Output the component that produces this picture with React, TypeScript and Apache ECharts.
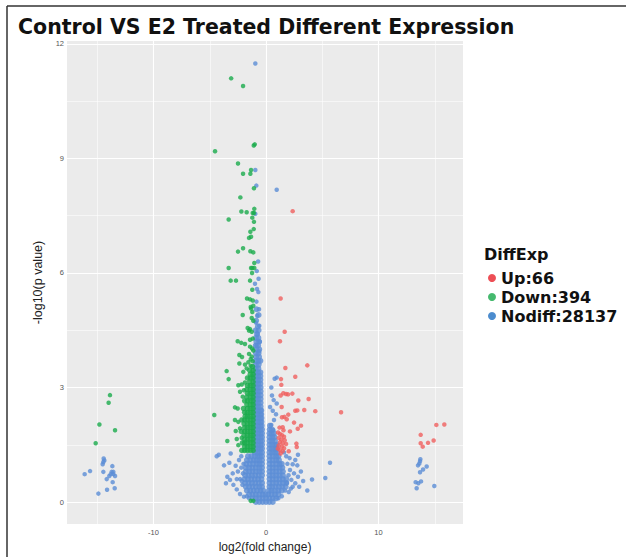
import React, { useEffect, useRef } from "react";
import * as echarts from "echarts";

const chartTitle = "Control VS E2 Treated Different Expression";
const legendTitle = "DiffExp";
const seriesNames = ["Up:66", "Down:394", "Nodiff:28137"];
const xAxisName = "log2(fold change)";
const yAxisName = "-log10(p value)";
const xTicks = [-10, 0, 10];
const yTicks = [0, 3, 6, 9, 12];
const xMinor = [-15, -5, 5, 15];
const yMinor = [1.5, 4.5, 7.5, 10.5];

// Up-regulated genes (red)
const upPoints: [number, number][] = [
  [2.37, 7.62], [1.30, 5.33], [1.66, 4.46], [1.24, 4.21], [3.67, 3.58], [1.72, 3.51], [2.60, 3.28],
  [1.33, 3.22], [1.36, 3.07], [1.54, 2.85], [1.78, 2.83], [1.96, 2.82], [2.34, 2.84], [1.30, 2.79],
  [2.87, 2.66], [3.79, 2.70], [1.39, 2.49], [2.60, 2.39], [2.78, 2.40], [3.40, 2.41], [4.38, 2.38],
  [6.67, 2.35], [1.98, 2.29], [1.63, 2.23], [1.42, 2.22], [1.84, 2.17], [2.49, 2.08], [3.11, 2.00],
  [2.82, 1.92], [2.13, 1.85], [1.48, 1.96], [1.20, 1.95], [1.55, 1.88], [1.07, 1.82], [1.24, 1.78],
  [1.42, 1.75], [1.60, 1.71], [1.13, 1.68], [1.36, 1.64], [1.66, 1.62], [1.24, 1.57], [1.48, 1.54],
  [1.78, 1.52], [1.13, 1.48], [1.42, 1.45], [1.60, 1.41], [1.05, 1.40], [1.24, 1.36], [1.48, 1.33],
  [2.02, 1.33], [2.70, 1.53], [2.73, 1.44], [1.30, 1.27],
  [15.14, 2.02], [15.85, 2.03], [13.75, 1.76], [14.90, 1.61], [14.40, 1.55], [13.75, 1.54], [13.93, 1.45],
];

// Down-regulated genes (green), scattered ones
const downPoints: [number, number][] = [
  [-3.10, 11.10], [-2.04, 10.90], [-1.09, 9.34], [-1.00, 9.37], [-4.53, 9.19], [-2.49, 8.87], [-1.33, 8.70],
  [-2.04, 8.60], [-1.39, 8.60], [-1.07, 8.22], [-2.28, 7.98], [-1.04, 7.68], [-2.19, 7.61], [-1.72, 7.59],
  [-1.18, 7.57], [-1.07, 7.57], [-3.32, 7.40], [-1.22, 7.45], [-1.07, 7.34], [-1.09, 7.15], [-1.39, 7.08],
  [-1.33, 6.95], [-1.51, 6.92], [-2.04, 6.65], [-2.49, 6.56], [-1.39, 6.57], [-1.13, 6.54], [-1.04, 6.26],
  [-1.33, 6.13], [-1.22, 6.13], [-1.04, 6.13], [-3.32, 6.13], [-1.24, 6.00], [-3.14, 5.80], [-2.67, 5.80],
  [-1.42, 5.80], [-1.22, 5.56], [-1.69, 5.33], [-1.42, 5.31], [-1.18, 5.28], [-1.36, 5.11], [-1.13, 5.14],
  [-1.33, 5.07], [-2.07, 4.90], [-1.22, 4.98], [-1.27, 4.82], [-1.13, 4.75], [-1.63, 4.56], [-1.42, 4.53],
  [-1.27, 4.46], [-1.51, 4.49], [-1.18, 4.28], [-1.42, 4.25], [-2.52, 4.21], [-2.20, 4.17], [-1.87, 4.14],
  [-1.42, 4.07], [-1.24, 4.02], [-1.13, 3.97], [-2.37, 3.85], [-2.13, 3.80], [-1.51, 3.88], [-1.27, 3.81],
  [-1.36, 3.74], [-2.37, 3.63], [-1.87, 3.60], [-1.57, 3.66], [-1.36, 3.57], [-1.18, 3.69], [-3.50, 3.43],
  [-2.02, 3.41], [-1.72, 3.50], [-3.32, 3.22], [-2.46, 3.06], [-2.16, 3.08], [-1.87, 3.13], [-2.31, 2.89],
  [-1.96, 2.93], [-2.07, 2.76], [-4.60, 2.28], [-2.76, 2.48], [-2.52, 2.45], [-3.44, 2.03], [-2.76, 2.15],
  [-2.46, 2.10], [-2.69, 1.86], [-3.44, 1.60], [-2.60, 1.65], [-2.46, 1.49], [-2.31, 1.93], [-2.16, 1.68],
  [-13.87, 2.80], [-13.99, 2.60], [-14.81, 2.03], [-13.42, 1.88], [-15.14, 1.54],
  [-1.36, 0.03], [-1.13, 0.03],
];

// Down-regulated genes (green), dense column, one row per p level
const downRowY = [1.35, 1.45, 1.55, 1.65, 1.75, 1.85, 1.95, 2.05, 2.15, 2.25, 2.35, 2.45, 2.55, 2.65, 2.75, 2.85, 2.95, 3.05, 3.15, 3.25, 3.35, 3.45, 3.55];
const downRowX = [
  [-1.15, -1.4, -1.65, -1.9, -2.15], [-1.15, -1.4, -1.65, -1.9], [-1.15, -1.4, -1.65, -1.9, -2.1],
  [-1.15, -1.4, -1.65, -1.9], [-1.15, -1.4, -1.65, -1.95], [-1.15, -1.4, -1.65, -1.9, -2.2],
  [-1.15, -1.4, -1.65, -1.9], [-1.15, -1.4, -1.65, -1.95], [-1.15, -1.4, -1.65, -1.9, -2.15],
  [-1.15, -1.4, -1.65, -1.85], [-1.15, -1.4, -1.65, -1.9], [-1.15, -1.4, -1.65, -2.0],
  [-1.15, -1.4, -1.7], [-1.15, -1.4, -1.65, -1.9], [-1.15, -1.4, -1.7], [-1.15, -1.4, -1.65],
  [-1.15, -1.4, -1.7], [-1.15, -1.4, -1.65], [-1.15, -1.45], [-1.15, -1.4, -1.65], [-1.15, -1.4],
  [-1.15, -1.45], [-1.2],
];

// Not differential genes (blue), scattered ones
const nodiffPoints: [number, number][] = [
  [-16.12, 0.73], [-15.64, 0.81], [-14.90, 0.22], [-14.52, 0.99], [-14.46, 1.05], [-14.37, 1.09], [-14.43, 1.14],
  [-14.46, 0.79], [-14.16, 0.60], [-14.13, 0.32], [-13.93, 0.68], [-13.80, 0.73], [-13.72, 0.79], [-13.66, 0.94],
  [-13.63, 0.52], [-13.57, 0.79], [-13.57, 0.73], [-13.45, 0.36], [-13.42, 0.68],
  [13.72, 1.12], [13.69, 1.07], [13.63, 1.01], [13.51, 0.96], [14.28, 0.93], [13.96, 0.85], [13.69, 0.78],
  [13.30, 0.52], [13.54, 0.49], [13.78, 0.54], [13.39, 0.36], [14.96, 0.42],
  [-4.38, 1.20], [-4.20, 1.24], [-3.73, 0.96], [-3.56, 0.49], [-3.14, 1.27], [-3.26, 1.03], [-2.96, 0.75],
  [-3.44, 0.66], [-3.20, 0.58], [-2.60, 0.33], [-2.31, 0.21], [-1.96, 0.14], [-2.40, 1.10], [-2.20, 0.90],
  [-2.50, 0.80], [-2.30, 0.60], [-2.10, 0.45], [-2.70, 0.95], [-2.20, 1.20], [-2.00, 1.00], [-2.05, 0.75],
  [-2.15, 0.55], [-2.60, 0.60], [-2.90, 0.45], [-1.70, 0.15], [-1.50, 0.10],
  [2.84, 1.24], [2.60, 1.10], [2.37, 0.99], [2.78, 0.96], [2.13, 0.84], [2.49, 0.75], [2.84, 0.66],
  [2.25, 0.58], [2.60, 0.49], [2.37, 0.40], [3.67, 0.30], [4.09, 0.59], [5.27, 0.63], [5.69, 1.03],
  [2.02, 0.26], [1.90, 1.00], [2.00, 0.70], [1.85, 0.50], [1.70, 0.30], [1.40, 0.15], [1.10, 0.10],
  [2.10, 1.15], [1.80, 1.20], [1.60, 1.30], [2.20, 0.35], [3.10, 0.80], [3.30, 0.55], [2.95, 0.40],
  [0.77, 3.23], [0.95, 3.26], [0.47, 3.00], [0.53, 2.79], [0.68, 2.67], [0.36, 2.49], [0.95, 2.58],
  [0.60, 2.39], [0.89, 2.30], [0.71, 2.15], [0.47, 2.02], [0.65, 1.88],
  [-0.95, 11.49], [-0.95, 8.70], [-0.86, 8.29], [0.95, 8.18], [-0.95, 7.55], [-0.98, 5.72], [-0.80, 5.58],
  [-0.68, 5.50], [-0.85, 5.25], [-0.62, 5.05], [-0.78, 4.88], [-0.90, 4.70], [-0.60, 4.62], [-0.75, 4.40],
  [-0.55, 4.20], [-0.85, 4.10], [-0.60, 3.95], [-0.70, 6.30], [-0.82, 6.05], [-0.66, 5.85],
];

// Not differential genes (blue), dense core, one row per p level
const nodiffRowY = [
  0.0, 0.1, 0.2, 0.3, 0.4, 0.5, 0.6, 0.7, 0.8, 0.9, 1.0, 1.1, 1.2, 1.3, 1.4, 1.5, 1.6, 1.7, 1.8, 1.9,
  2.0, 2.1, 2.2, 2.3, 2.4, 2.5, 2.6, 2.7, 2.8, 2.9, 3.0, 3.1, 3.2, 3.3, 3.4, 3.5, 3.6, 3.7, 3.8,
  3.9, 4.0, 4.1, 4.2, 4.3, 4.4, 4.5, 4.6, 4.75, 4.9, 5.05,
];
const nodiffRowX = [
  [-0.9, -0.6, -0.3, 0, 0.3, 0.6],
  [-1.2, -0.9, -0.6, -0.3, 0, 0.3, 0.6, 0.9],
  [-1.5, -1.2, -0.9, -0.6, -0.3, -0.05, 0.2, 0.5, 0.8, 1.1],
  [-1.7, -1.4, -1.1, -0.8, -0.5, -0.25, 0.25, 0.5, 0.8, 1.1, 1.4],
  [-1.8, -1.5, -1.2, -0.9, -0.6, -0.35, 0.3, 0.55, 0.85, 1.15, 1.45, 1.75],
  [-1.85, -1.55, -1.25, -0.95, -0.65, -0.35, 0.3, 0.6, 0.9, 1.2, 1.5, 1.8],
  [-1.9, -1.6, -1.3, -1.0, -0.7, -0.4, 0.3, 0.6, 0.9, 1.2, 1.5, 1.8],
  [-1.85, -1.55, -1.25, -0.95, -0.65, -0.35, 0.3, 0.6, 0.9, 1.2, 1.5],
  [-1.8, -1.5, -1.2, -0.9, -0.6, -0.35, 0.3, 0.6, 0.9, 1.2, 1.5],
  [-1.8, -1.5, -1.2, -0.9, -0.6, -0.35, 0.3, 0.6, 0.9, 1.2, 1.45],
  [-1.75, -1.45, -1.15, -0.85, -0.6, -0.35, 0.3, 0.6, 0.9, 1.2, 1.4],
  [-1.7, -1.4, -1.1, -0.85, -0.6, -0.35, 0.3, 0.6, 0.9, 1.15],
  [-1.6, -1.3, -1.0, -0.75, -0.55, -0.35, 0.3, 0.6, 0.9, 1.1],
  [-1.0, -0.75, -0.55, -0.35, 0.3, 0.55, 0.8, 1.0],
  [-0.95, -0.7, -0.5, -0.35, 0.3, 0.55, 0.8, 0.95],
  [-0.95, -0.7, -0.5, -0.35, 0.3, 0.55, 0.8, 0.95],
  [-0.95, -0.7, -0.5, -0.35, 0.3, 0.55, 0.8],
  [-0.95, -0.7, -0.5, -0.35, 0.3, 0.55, 0.75],
  [-0.95, -0.7, -0.5, -0.35, 0.3, 0.5, 0.7],
  [-0.95, -0.7, -0.5, -0.35, 0.32, 0.55],
  [-0.95, -0.7, -0.5, -0.38, 0.35],
  [-0.95, -0.7, -0.5, -0.4],
  [-0.95, -0.72, -0.5, -0.4],
  [-0.95, -0.72, -0.5, -0.42],
  [-0.95, -0.72, -0.5, -0.42],
  [-0.95, -0.72, -0.48],
  [-0.95, -0.72, -0.48],
  [-0.95, -0.72, -0.48],
  [-0.95, -0.72, -0.48],
  [-0.95, -0.72, -0.48],
  [-0.95, -0.72, -0.48],
  [-0.95, -0.7, -0.5],
  [-0.95, -0.7, -0.5],
  [-0.95, -0.7, -0.5],
  [-0.95, -0.7, -0.5],
  [-0.92, -0.68],
  [-0.9, -0.65],
  [-0.92, -0.68, -0.5],
  [-0.88, -0.62],
  [-0.9, -0.66],
  [-0.85, -0.6],
  [-0.92, -0.7],
  [-0.86, -0.62],
  [-0.9, -0.68],
  [-0.8],
  [-0.92, -0.66],
  [-0.72],
  [-0.88],
  [-0.66],
  [-0.84],
];

const upColor = "#f0605f";
const downColor = "#1aab4c";
const nodiffColor = "#5b8dd6";
const legendColors = ["#e8222a", "#16a84a", "#1f6fc2"];

function buildRows(ys: number[], xs: number[][]): [number, number][] {
  const out: [number, number][] = [];
  ys.forEach((y, i) => (xs[i] || []).forEach((x) => out.push([x, y])));
  return out;
}

export default function App() {
  const ref = useRef<HTMLDivElement>(null);
  useEffect(() => {
    if (!ref.current) return;
    const chart = echarts.init(ref.current, undefined, { renderer: "svg" });
    const gridLines = [
      ...xTicks.map((v) => ({ xAxis: v, lineStyle: { width: 1.1 } })),
      ...xMinor.map((v) => ({ xAxis: v, lineStyle: { width: 0.55 } })),
      ...yTicks.map((v) => ({ yAxis: v, lineStyle: { width: 1.1 } })),
      ...yMinor.map((v) => ({ yAxis: v, lineStyle: { width: 0.55 } })),
    ];
    const tickLabel = { fontSize: 7.5, color: "#555", fontFamily: "Liberation Sans, Arial, sans-serif" };
    const option: any = {
      animation: false,
      backgroundColor: "#ffffff",
      grid: {
        left: 67, right: 163, top: 41, bottom: 33, show: true,
        backgroundColor: "#ebebeb", borderWidth: 0, containLabel: false, outerBoundsMode: "none",
      },
      xAxis: {
        type: "value", min: -17.69, max: 17.51,
        name: xAxisName, nameLocation: "middle", nameGap: 14,
        nameTextStyle: { fontSize: 12, color: "#222", fontFamily: "Liberation Sans, Arial, sans-serif" },
        axisLine: { show: false },
        axisTick: { show: true, length: 3, customValues: xTicks, lineStyle: { color: "#555", width: 0.8 } },
        axisLabel: { ...tickLabel, margin: 4, customValues: xTicks },
        splitLine: { show: false },
      },
      yAxis: {
        type: "value", min: -0.576, max: 12.078,
        name: yAxisName, nameLocation: "middle", nameGap: 19, nameRotate: 90,
        nameTextStyle: { fontSize: 12.5, color: "#222", fontFamily: "Liberation Sans, Arial, sans-serif" },
        axisLine: { show: false },
        axisTick: { show: true, length: 3, customValues: yTicks, lineStyle: { color: "#555", width: 0.8 } },
        axisLabel: { ...tickLabel, margin: 3, customValues: yTicks },
        splitLine: { show: false },
      },
      legend: {
        orient: "vertical", left: 483, top: 265, itemWidth: 8, itemHeight: 8, itemGap: 3,
        icon: "circle",
        textStyle: { fontSize: 16, fontWeight: "bold", color: "#111", lineHeight: 16, fontFamily: "DejaVu Sans, sans-serif" },
        data: seriesNames.map((n, i) => ({ name: n, itemStyle: { color: legendColors[i] } })),
      },
      graphic: [
        { type: "line", shape: { x1: 7, y1: 6, x2: 626, y2: 6 }, style: { stroke: "#333", lineWidth: 1.5 } },
        { type: "line", shape: { x1: 7, y1: 6, x2: 7, y2: 557 }, style: { stroke: "#333", lineWidth: 1.5 } },
        {
          type: "text", left: 18, top: 16,
          style: { text: chartTitle, font: 'bold 20.5px "DejaVu Sans", sans-serif', fill: "#111" },
        },
        {
          type: "text", left: 484, top: 246,
          style: { text: legendTitle, font: 'bold 16px "DejaVu Sans", sans-serif', fill: "#111" },
        },
      ],
      series: [
        {
          name: "__grid", type: "scatter", data: [], z: 1, silent: true,
          markLine: {
            z: 1, silent: true, symbol: ["none", "none"], label: { show: false },
            lineStyle: { color: "#ffffff", type: "solid" }, data: gridLines, animation: false,
          },
        },
        {
          name: seriesNames[2], type: "scatter", symbolSize: 6, z: 2,
          itemStyle: { color: nodiffColor },
          data: buildRows(nodiffRowY, nodiffRowX),
        },
        {
          name: seriesNames[2], type: "scatter", symbolSize: 4.5, z: 2,
          itemStyle: { color: nodiffColor },
          data: nodiffPoints,
        },
        {
          name: seriesNames[1], type: "scatter", symbolSize: 5.5, z: 3,
          itemStyle: { color: downColor },
          data: buildRows(downRowY, downRowX),
        },
        {
          name: seriesNames[1], type: "scatter", symbolSize: 4.5, z: 3,
          itemStyle: { color: downColor },
          data: downPoints,
        },
        {
          name: seriesNames[0], type: "scatter", symbolSize: 4.5, z: 4,
          itemStyle: { color: upColor },
          data: upPoints,
        },
      ],
    };
    chart.setOption(option);
    return () => chart.dispose();
  }, []);
  return <div ref={ref} style={{ width: 626, height: 557, position: "absolute", left: 0, top: 0 }} />;
}
